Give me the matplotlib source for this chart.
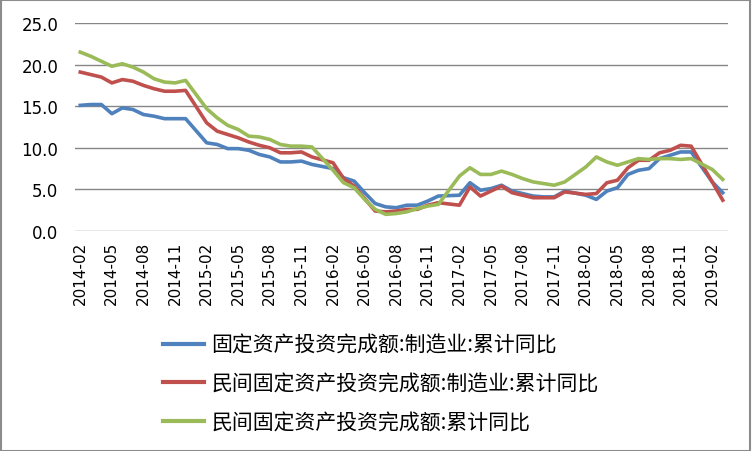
import matplotlib
matplotlib.use("Agg")
import matplotlib.pyplot as plt
from matplotlib.patches import Rectangle

plt.rcParams['font.family'] = ['Noto Sans CJK SC', 'DejaVu Sans']

# monthly cumulative data (January not published)
months = [f"{y}-{m:02d}" for y in range(2014, 2020) for m in range(2, 13)
          if not (y == 2019 and m > 3)]

mfg = [15.1, 15.2, 15.2, 14.1, 14.8, 14.6, 14.0, 13.8, 13.5, 13.5, 13.5,
       10.6, 10.4, 9.9, 9.9, 9.7, 9.2, 8.9, 8.3, 8.3, 8.4, 8.0,
       7.5, 6.4, 6.0, 4.6, 3.3, 2.9, 2.8, 3.1, 3.1, 3.6, 4.2,
       4.3, 5.8, 4.9, 5.1, 5.5, 4.8, 4.5, 4.2, 4.1, 4.1, 4.8,
       4.3, 3.8, 4.8, 5.2, 6.8, 7.3, 7.5, 8.7, 9.1, 9.5, 9.5,
       5.9, 4.6]

priv_mfg = [19.1, 18.8, 18.5, 17.8, 18.2, 18.0, 17.5, 17.1, 16.8, 16.8, 16.9,
            13.0, 12.0, 11.6, 11.2, 10.7, 10.3, 10.0, 9.4, 9.4, 9.5, 8.9,
            8.2, 6.3, 5.4, 3.9, 2.4, 2.3, 2.4, 2.6, 2.6, 3.1, 3.4,
            3.1, 5.3, 4.2, 4.8, 5.4, 4.6, 4.3, 4.0, 4.0, 4.0, 4.7,
            4.4, 4.5, 5.8, 6.1, 7.6, 8.5, 8.5, 9.4, 9.7, 10.3, 10.2,
            5.9, 3.7]

priv = [21.5, 21.0, 20.4, 19.8, 20.1, 19.7, 19.1, 18.3, 17.9, 17.8, 18.1,
        14.7, 13.6, 12.7, 12.2, 11.4, 11.3, 11.0, 10.4, 10.2, 10.2, 10.1,
        7.3, 5.8, 5.2, 3.8, 2.6, 2.0, 2.1, 2.3, 2.7, 3.0, 3.2,
        6.6, 7.6, 6.8, 6.8, 7.2, 6.8, 6.3, 5.9, 5.7, 5.5, 5.9,
        7.7, 8.9, 8.3, 7.9, 8.3, 8.7, 8.6, 8.7, 8.7, 8.6, 8.7,
        7.4, 6.2]

series_names = ["固定资产投资完成额:制造业:累计同比",
                "民间固定资产投资完成额:制造业:累计同比",
                "民间固定资产投资完成额:累计同比"]
colors = ["#4F81BD", "#C0504D", "#9BBB59"]

def month_index(s):
    y, m = map(int, s.split("-"))
    return (y - 2014) * 12 + (m - 2)

x = [month_index(s) for s in months]
tick_labels = [f"{2014 + (i + 1) // 12}-{(i + 1) % 12 + 1:02d}" for i in range(0, 61, 3)]
tick_pos = list(range(0, 61, 3))

fig = plt.figure(figsize=(7.52, 4.52), dpi=100)
ax = fig.add_axes([75 / 752, 1 - 232 / 452, (728 - 75) / 752, (232 - 24) / 452])

for vals, c, name in zip([mfg, priv_mfg, priv], colors, series_names):
    ax.plot(x, vals, color=c, lw=2.6, solid_joinstyle='round', label=name)

ax.tick_params(axis='x', length=0, pad=7)
ax.tick_params(axis='y', length=0, pad=12)
ax.set_xlim(-0.5, 61.5)
ax.set_ylim(0, 25)
ax.set_yticks([0, 5, 10, 15, 20, 25])
ax.set_yticklabels([f"{v:.1f}" for v in [0, 5, 10, 15, 20, 25]],
                   fontsize=12, family='DejaVu Sans')
ax.set_xticks(tick_pos)
ax.set_xticklabels(tick_labels, rotation=90, fontsize=11, family='DejaVu Sans')
for s in ax.spines.values():
    s.set_visible(False)
ax.grid(axis='y', color='#868686', lw=1.0)
ax.set_axisbelow(True)

leg = fig.legend(loc='upper left', bbox_to_anchor=(163 / 752, 1 - 335 / 452),
                 frameon=False, fontsize=15, handlelength=1.97, handletextpad=0.34,
                 labelspacing=0.8, borderaxespad=0, borderpad=0)
for line in leg.get_lines():
    line.set_linewidth(3)

fig.patches.append(Rectangle((0.001, 0.001), 0.997, 0.997, transform=fig.transFigure,
                             fill=False, edgecolor='#8c8c8c', lw=1.5))

fig.savefig("out.png", dpi=100)
